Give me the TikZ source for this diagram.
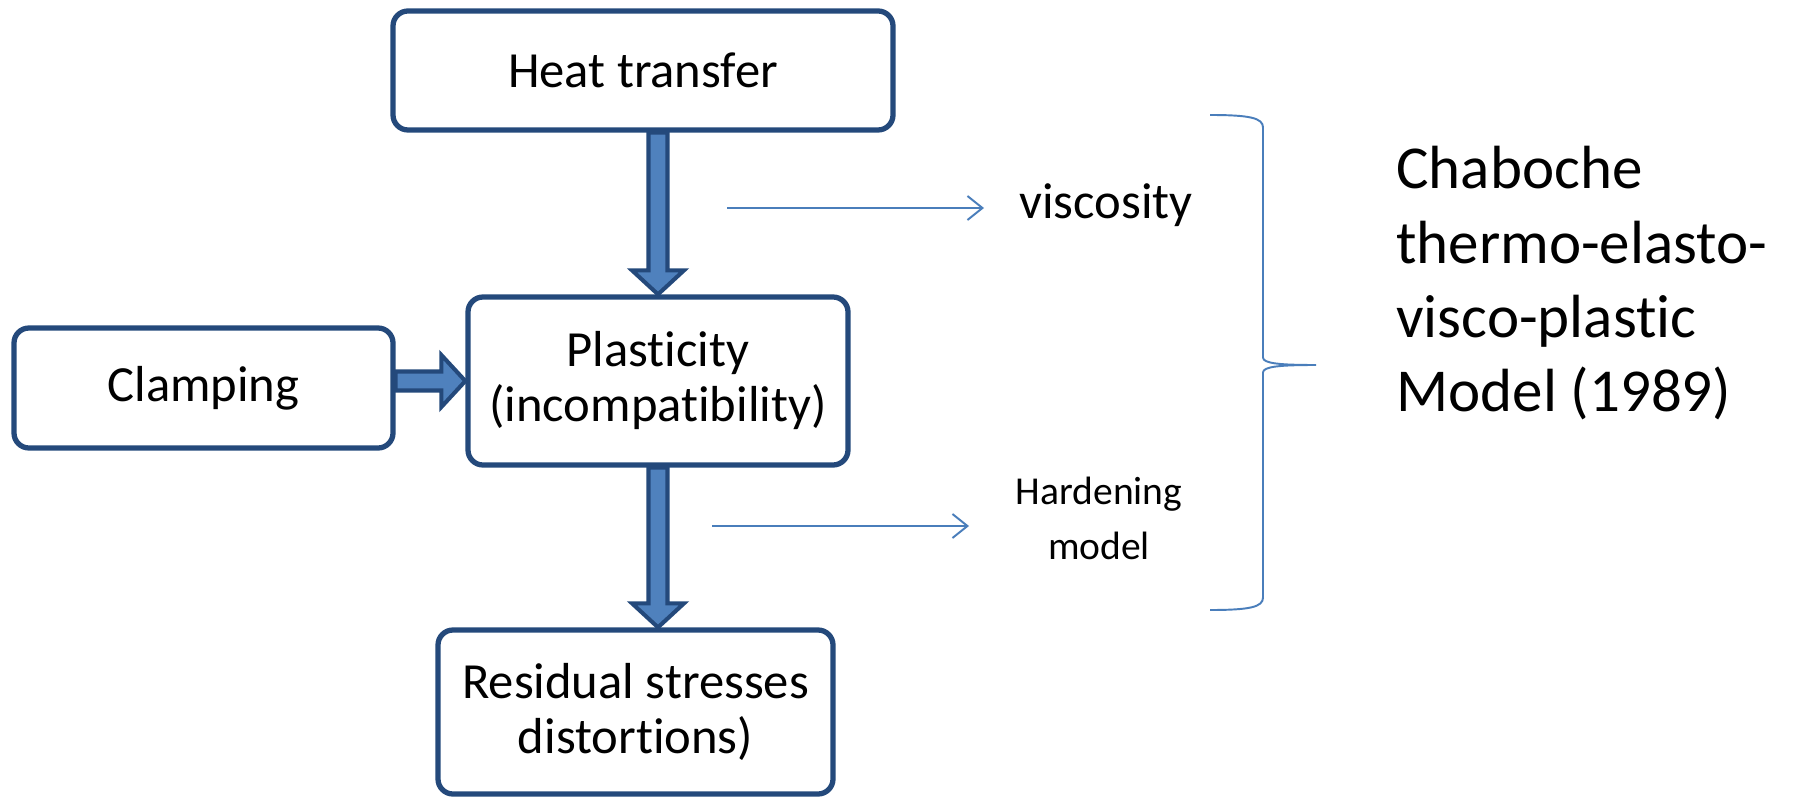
\documentclass[tikz,border=0pt]{standalone}
\usepackage{fontspec}
\setmainfont{Carlito}[Ligatures=NoCommon]
\usetikzlibrary{arrows.meta, calc}
\definecolor{boxBlue}{HTML}{24497B}
\definecolor{fillBlue}{HTML}{4F81BD}
\definecolor{lineBlue}{HTML}{4A7EBB}
\tikzstyle{recNode} = [rectangle, rounded corners=0.3cm, draw=boxBlue, line width=3pt, align=center, inner sep=0pt, font=\fontsize{28.8}{31.3}\selectfont]
\tikzstyle{eNode} = [align=center, inner sep=0pt]
\tikzstyle{blockArrow} = [draw=boxBlue, fill=fillBlue, line width=2.3pt]
\tikzstyle{arrow} = [draw=lineBlue, line width=1.1pt, -{Straight Barb[length=0.3cm, width=0.48cm]}]
\tikzstyle{brace} = [draw=lineBlue, line width=1.1pt]

% fat arrows between boxes
\newcommand{\fatDown}[2]{%
  \draw[blockArrow] ($(#1)+(-0.19,0)$) -- ($(#2)+(-0.19,0.48)$) -- ($(#2)+(-0.52,0.48)$) -- (#2)
    -- ($(#2)+(0.52,0.48)$) -- ($(#2)+(0.19,0.48)$) -- ($(#1)+(0.19,0)$) -- cycle;}
\newcommand{\fatRight}[2]{%
  \draw[blockArrow] ($(#1)+(0,0.19)$) -- ($(#2)+(-0.48,0.19)$) -- ($(#2)+(-0.48,0.52)$) -- (#2)
    -- ($(#2)+(-0.48,-0.52)$) -- ($(#2)+(-0.48,-0.19)$) -- ($(#1)+(0,-0.19)$) -- cycle;}

\begin{document}
\begin{tikzpicture}[node distance=2cm]
        \useasboundingbox (0,0) rectangle (36.08,-15.94);

        \node (plast) [recNode, minimum width=7.6cm, minimum height=3.36cm] at (13.16,-7.62) {Plasticity\\(incompatibility)};
        \node (heat) [recNode, minimum width=10cm, minimum height=2.38cm, node distance=6.21cm, above of=plast, xshift=-0.3cm] {Heat transfer};
        \node (clamp) [recNode, minimum width=7.58cm, minimum height=2.4cm, node distance=9.09cm, left of=plast, yshift=-0.14cm] {Clamping};
        \node (resid) [recNode, minimum width=7.9cm, minimum height=3.28cm, node distance=6.62cm, below of=plast, xshift=-0.45cm] {Residual stresses\\distortions)};

        \coordinate (topTail) at (heat.south -| plast.north);
        \coordinate (botTip) at (resid.north -| plast.south);
        \coordinate (sideTail) at (clamp.east |- plast.west);
        \fatDown{topTail}{plast.north}
        \fatDown{plast.south}{botTip}
        \fatRight{sideTail}{plast.west}

        \node (visc) [eNode, font=\fontsize{28.8}{31.3}\selectfont] at (22.12,-4.1) {viscosity};
        \node (hard) [eNode, font=\fontsize{22.5}{31.3}\selectfont] at (21.98,-10.36) {Hardening\\model};
        \node (chab) [eNode, align=left, anchor=north west, font=\fontsize{34.7}{42.3}\selectfont] at (27.92,-2.92) {Chaboche\\thermo-elasto-\\visco-plastic\\Model (1989)};

        \coordinate (viscFrom) at (14.54,-4.16);
        \coordinate (viscTo) at (19.68,-4.16);
        \coordinate (hardFrom) at (14.24,-10.52);
        \coordinate (hardTo) at (19.38,-10.52);
        \draw [arrow] (viscFrom) -- (viscTo);
        \draw [arrow] (hardFrom) -- (hardTo);

        % brace
        \draw [brace] (24.2,-2.3) .. controls (25.0,-2.3) and (25.26,-2.36) .. (25.26,-2.55) -- (25.26,-7.15)
            .. controls (25.26,-7.27) and (25.6,-7.3) .. (26.32,-7.3)
            .. controls (25.6,-7.3) and (25.26,-7.33) .. (25.26,-7.45) -- (25.26,-11.95)
            .. controls (25.26,-12.14) and (25.0,-12.2) .. (24.2,-12.2);
    \end{tikzpicture}
\end{document}
